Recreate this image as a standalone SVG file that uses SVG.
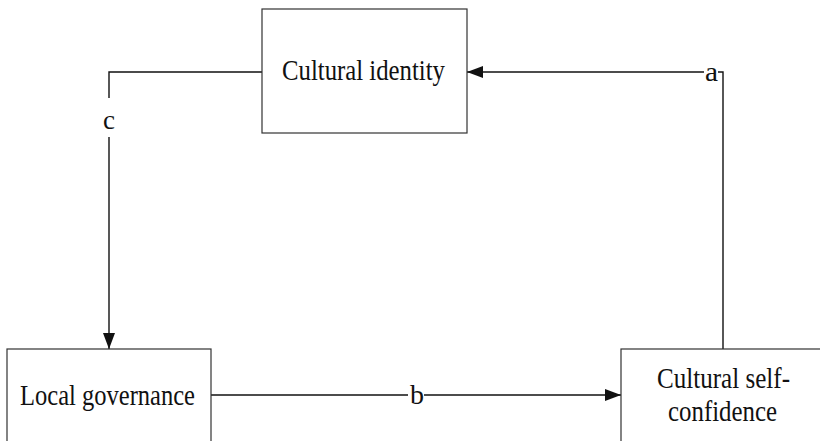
<svg xmlns="http://www.w3.org/2000/svg" width="820" height="441" viewBox="0 0 820 441">
<style>
.box{fill:#fff;stroke:#333;stroke-width:1.2}
.t{font-family:'Liberation Serif','DejaVu Serif',serif;font-size:29px;fill:#111}
.l{font-family:'Liberation Serif','DejaVu Serif',serif;font-size:28px;fill:#111}
.c{fill:none;stroke:#111;stroke-width:1.4}
</style>
<defs>
<marker id="ah" viewBox="0 0 16 12" refX="16" refY="6" markerWidth="16" markerHeight="12" markerUnits="userSpaceOnUse" orient="auto">
<path d="M0,0 L16,6 L0,12 Z" fill="#111"/>
</marker>
</defs>
<rect width="820" height="441" fill="#fff"/>
<g id="connectors">
<path class="c" d="M262,72 H109 V98"/>
<path class="c" d="M109,137 V349" marker-end="url(#ah)"/>
<path class="c" d="M723,349 V72 H718"/>
<path class="c" d="M704,72 H467" marker-end="url(#ah)"/>
<path class="c" d="M211,395 H408"/>
<path class="c" d="M424,395 H621" marker-end="url(#ah)"/>
<text class="l" x="109" y="129" text-anchor="middle" textLength="12" lengthAdjust="spacingAndGlyphs">c</text>
<text class="l" x="705" y="81" textLength="13" lengthAdjust="spacingAndGlyphs">a</text>
<text class="l" x="410" y="404" textLength="14" lengthAdjust="spacingAndGlyphs">b</text>
</g>
<g id="cultural-identity">
<rect class="box" x="262" y="9" width="205" height="124"/>
<text class="t" x="282" y="80" textLength="163" lengthAdjust="spacingAndGlyphs">Cultural identity</text>
</g>
<g id="local-governance">
<rect class="box" x="7" y="349" width="204" height="100"/>
<text class="t" x="20" y="405" textLength="175" lengthAdjust="spacingAndGlyphs">Local governance</text>
</g>
<g id="cultural-self-confidence">
<rect class="box" x="621" y="349" width="210" height="100"/>
<text class="t" x="657" y="388" textLength="133" lengthAdjust="spacingAndGlyphs">Cultural self-</text>
<text class="t" x="668" y="421" textLength="109" lengthAdjust="spacingAndGlyphs">confidence</text>
</g>
</svg>
